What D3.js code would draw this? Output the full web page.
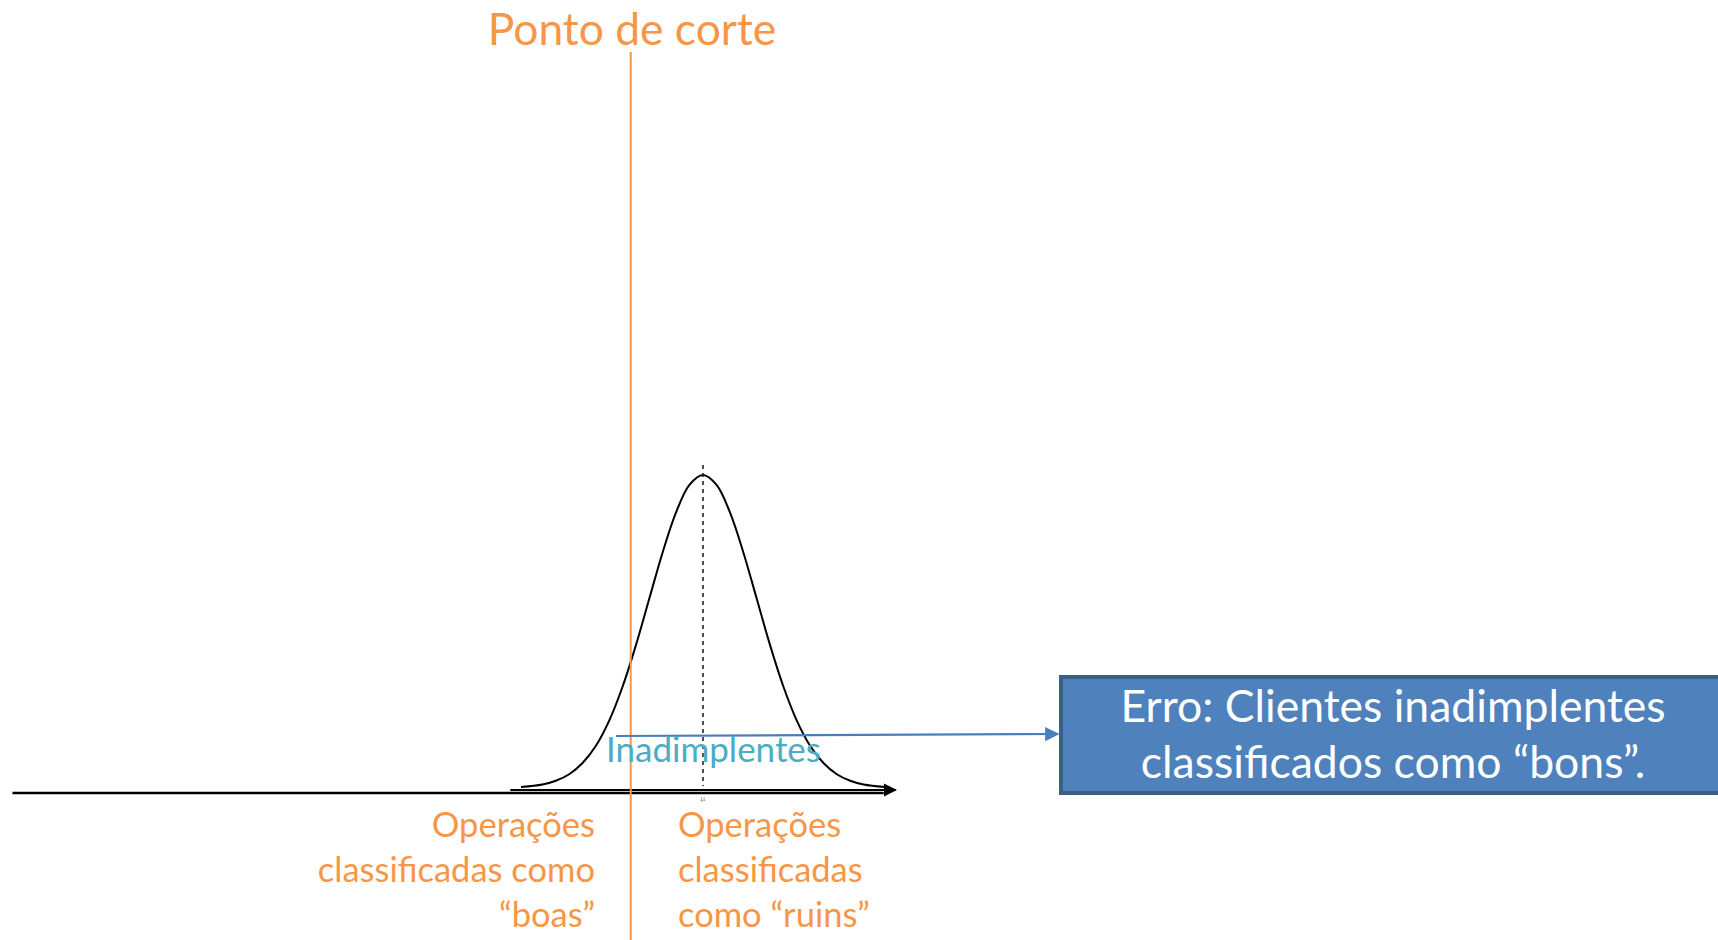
<!DOCTYPE html>
<html>
<head>
<meta charset="utf-8">
<script src="https://cdn.jsdelivr.net/npm/d3@7"></script>
<style>
  html, body { margin: 0; padding: 0; background: #fff; }
  svg { display: block; font-family: Lato, "Open Sans", sans-serif; }
</style>
</head>
<body>
<div id="chart"></div>
<script>
// curva dos inadimplentes (z em desvios, altura relativa ao pico)
var curveZ = [-3.4, -3, -2.75, -2.5, -2.25, -2, -1.75, -1.5, -1.25, -1, -0.75, -0.5, -0.25, 0,
              0.25, 0.5, 0.75, 1, 1.25, 1.5, 1.75, 2, 2.25, 2.5, 2.75, 3, 3.4];
var curveH = [0.003, 0.011, 0.023, 0.044, 0.080, 0.135, 0.216, 0.325, 0.458, 0.607, 0.755, 0.882, 0.969, 1,
              0.969, 0.882, 0.755, 0.607, 0.458, 0.325, 0.216, 0.135, 0.080, 0.044, 0.023, 0.011, 0.003];

var cutPoint = -1.35;
var meanZ = 0;
var axisRange = [-12.9, 3.6];

var titleText = "Ponto de corte";
var curveLabel = "Inadimplentes";
var leftLabel = ["Operações", "classificadas como", "\u201cboas\u201d"];
var rightLabel = ["Operações", "classificadas", "como \u201cruins\u201d"];
var boxLabel = ["Erro: Clientes inadimplentes", "classificados como \u201cbons\u201d."];

var W = 1718, H = 940;
var orange = "#F79646";

var svg = d3.select("#chart").append("svg")
    .attr("width", W)
    .attr("height", H);

var x = d3.scaleLinear().domain([-3.4, 3.4]).range([521, 885]);
var y = d3.scaleLinear().domain([0, 1]).range([788, 475]);

var defs = svg.append("defs");
defs.append("marker")
    .attr("id", "blackArrow")
    .attr("viewBox", "0 0 10 10")
    .attr("refX", 9).attr("refY", 5)
    .attr("markerWidth", 6).attr("markerHeight", 6)
    .attr("markerUnits", "strokeWidth")
    .attr("orient", "auto")
    .append("path").attr("d", "M0,0 L10,5 L0,10 z").attr("fill", "#000");
defs.append("marker")
    .attr("id", "blueArrow")
    .attr("viewBox", "0 0 10 10")
    .attr("refX", 9).attr("refY", 5)
    .attr("markerWidth", 6.5).attr("markerHeight", 7)
    .attr("markerUnits", "strokeWidth")
    .attr("orient", "auto")
    .append("path").attr("d", "M0,0 L10,5 L0,10 z").attr("fill", "#4A7EBB");

// eixo horizontal
svg.append("line")
    .attr("x1", x(axisRange[0])).attr("x2", x(axisRange[1]) - 12)
    .attr("y1", 793).attr("y2", 793)
    .attr("stroke", "#000").attr("stroke-width", 2.5);
svg.append("line")
    .attr("x1", x(-3.6)).attr("x2", x(axisRange[1]))
    .attr("y1", 790).attr("y2", 790)
    .attr("stroke", "#000").attr("stroke-width", 2.2)
    .attr("marker-end", "url(#blackArrow)");

// curva normal
var line = d3.line()
    .x(function(d, i) { return x(curveZ[i]); })
    .y(function(d) { return y(d); })
    .curve(d3.curveCatmullRom);
svg.append("path")
    .attr("d", line(curveH))
    .attr("fill", "none")
    .attr("stroke", "#000")
    .attr("stroke-width", 2);

// linha da media
svg.append("line")
    .attr("x1", x(meanZ)).attr("x2", x(meanZ))
    .attr("y1", 465).attr("y2", 786)
    .attr("stroke", "#222").attr("stroke-width", 1.6)
    .attr("stroke-dasharray", "4,4");
svg.append("text")
    .attr("x", x(meanZ)).attr("y", 801)
    .attr("text-anchor", "middle")
    .attr("font-size", 8).attr("fill", "#888")
    .text("\u03bc");

// ponto de corte
svg.append("line")
    .attr("x1", x(cutPoint)).attr("x2", x(cutPoint))
    .attr("y1", 52).attr("y2", H)
    .attr("stroke", orange).attr("stroke-width", 2);
svg.append("text")
    .attr("x", 632).attr("y", 45)
    .attr("text-anchor", "middle")
    .attr("font-size", 44.4).attr("fill", orange)
    .text(titleText);

// seta azul ate a caixa
svg.append("line")
    .attr("x1", 616).attr("y1", 736)
    .attr("x2", 1058).attr("y2", 734)
    .attr("stroke", "#4A7EBB").attr("stroke-width", 2.2)
    .attr("marker-end", "url(#blueArrow)");

svg.append("text")
    .attr("x", 606).attr("y", 762)
    .attr("font-size", 35).attr("fill", "#4BACC6")
    .text(curveLabel);

// rotulos inferiores
svg.append("text")
    .attr("text-anchor", "end")
    .attr("font-size", 34.5).attr("fill", orange)
    .selectAll("tspan").data(leftLabel).enter().append("tspan")
    .attr("x", 595)
    .attr("y", function(d, i) { return 837 + i * 45; })
    .text(function(d) { return d; });
svg.append("text")
    .attr("text-anchor", "start")
    .attr("font-size", 34.5).attr("fill", orange)
    .selectAll("tspan").data(rightLabel).enter().append("tspan")
    .attr("x", 678)
    .attr("y", function(d, i) { return 837 + i * 45; })
    .text(function(d) { return d; });

// caixa de erro
svg.append("rect")
    .attr("x", 1061).attr("y", 677)
    .attr("width", 700).attr("height", 116)
    .attr("fill", "#4F81BD")
    .attr("stroke", "#3A5F8B").attr("stroke-width", 4);
svg.append("text")
    .attr("text-anchor", "middle")
    .attr("font-size", 44.5).attr("fill", "#fff")
    .selectAll("tspan").data(boxLabel).enter().append("tspan")
    .attr("x", 1393)
    .attr("y", function(d, i) { return 722 + i * 56; })
    .text(function(d) { return d; });
</script>
</body>
</html>
